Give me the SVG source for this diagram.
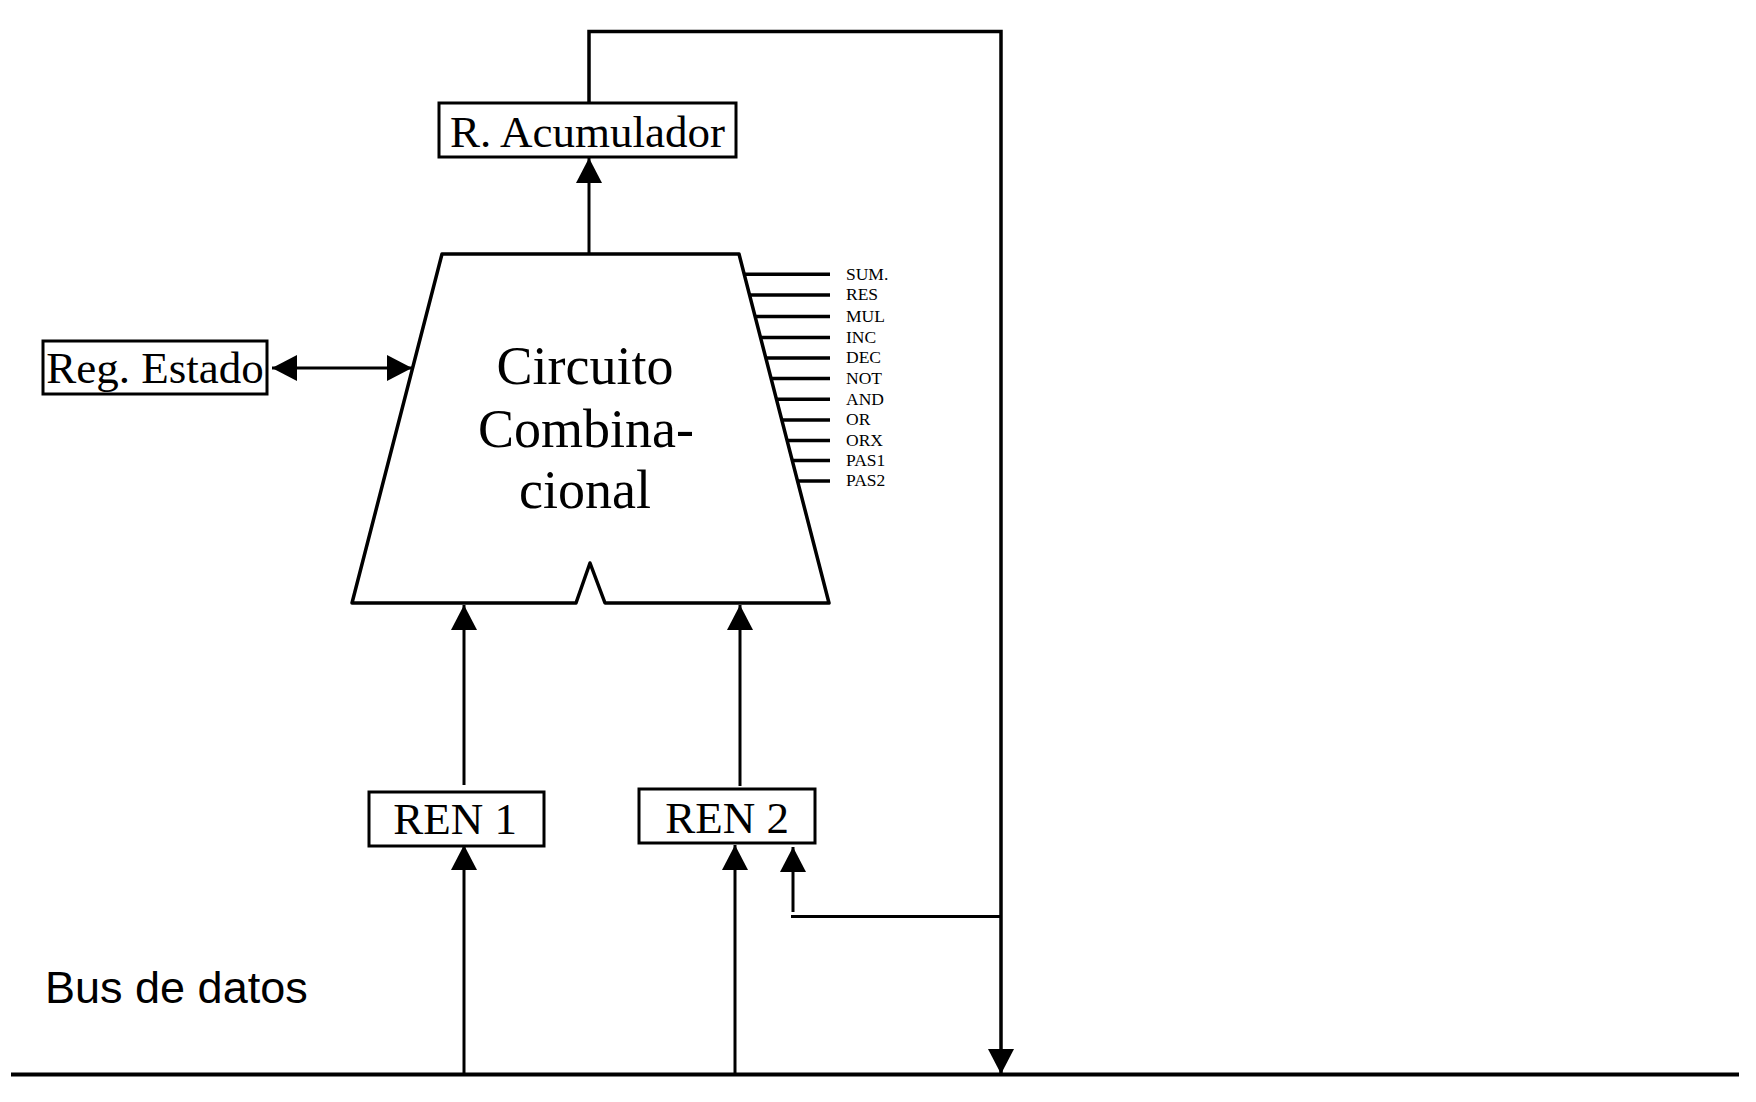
<svg xmlns="http://www.w3.org/2000/svg" width="1756" height="1102" viewBox="0 0 1756 1102">
<style>
.ln{stroke:#000;stroke-width:3;fill:none}
.box{stroke:#000;stroke-width:3;fill:#fff}
.serif{font-family:"Liberation Serif","Times New Roman",serif;fill:#000}
.big{font-size:45px;text-anchor:middle}
.cc{font-size:54px;text-anchor:middle}
.sig{font-size:17.5px}
.sans{font-family:"Liberation Sans",Arial,sans-serif;font-size:45px;fill:#000}
</style>
<defs>
<marker id="ah" markerUnits="userSpaceOnUse" markerWidth="26" markerHeight="26" refX="25" refY="13" orient="auto" viewBox="0 0 26 26">
<path d="M0,0 L25,13 L0,26 z" fill="#000"/>
</marker>
<marker id="ahs" markerUnits="userSpaceOnUse" markerWidth="26" markerHeight="26" refX="1" refY="13" orient="auto" viewBox="0 0 26 26">
<path d="M26,0 L1,13 L26,26 z" fill="#000"/>
</marker>
</defs>
<rect width="1756" height="1102" fill="#fff"/>

<g id="connectors">
<line class="ln" x1="11" y1="1074.5" x2="1739" y2="1074.5" style="stroke-width:4"/>
<polyline class="ln" points="589,103 589,31.5 1001,31.5 1001,1074" style="stroke-width:3.5" marker-end="url(#ah)"/>
<line class="ln" x1="589" y1="254" x2="589" y2="158" marker-end="url(#ah)"/>
<line class="ln" x1="272" y1="368" x2="412" y2="368" marker-start="url(#ahs)" marker-end="url(#ah)"/>
<line class="ln" x1="464" y1="785" x2="464" y2="605" marker-end="url(#ah)"/>
<line class="ln" x1="740" y1="786" x2="740" y2="605" marker-end="url(#ah)"/>
<line class="ln" x1="464" y1="1074" x2="464" y2="845" marker-end="url(#ah)"/>
<line class="ln" x1="735" y1="1076" x2="735" y2="845" marker-end="url(#ah)"/>
<line class="ln" x1="793" y1="912" x2="793" y2="847" marker-end="url(#ah)"/>
<line class="ln" x1="791" y1="916.5" x2="1001" y2="916.5"/>
</g>

<g id="acumulador">
<rect class="box" x="439" y="103" width="297" height="54"/>
<text class="serif big" x="587.5" y="146.5">R. Acumulador</text>
</g>

<g id="reg-estado">
<rect class="box" x="43" y="341" width="224" height="53"/>
<text class="serif big" x="155" y="383">Reg. Estado</text>
</g>

<g id="circuito">
<polygon class="ln" points="442,254 739,254 829,603 605,603 590,563 576,603 352,603" style="stroke-width:3.5;stroke-linejoin:round"/>
<text class="serif cc" x="585" y="384">Circuito</text>
<text class="serif cc" x="586" y="447">Combina-</text>
<text class="serif cc" x="585" y="508">cional</text>
</g>

<g id="senales">
<g class="ln" style="stroke-width:3.5">
<line x1="744" y1="274.3" x2="830" y2="274.3"/>
<line x1="749" y1="295" x2="830" y2="295"/>
<line x1="755" y1="316.6" x2="830" y2="316.6"/>
<line x1="760" y1="337.4" x2="830" y2="337.4"/>
<line x1="765" y1="358" x2="830" y2="358"/>
<line x1="771" y1="378.6" x2="830" y2="378.6"/>
<line x1="776" y1="399.3" x2="830" y2="399.3"/>
<line x1="781" y1="420" x2="830" y2="420"/>
<line x1="787" y1="440.5" x2="830" y2="440.5"/>
<line x1="792" y1="460.5" x2="830" y2="460.5"/>
<line x1="797" y1="481" x2="830" y2="481"/>
</g>
<g class="serif sig">
<text x="846" y="279.5">SUM.</text>
<text x="846" y="300.2">RES</text>
<text x="846" y="321.8">MUL</text>
<text x="846" y="342.6">INC</text>
<text x="846" y="363.2">DEC</text>
<text x="846" y="383.8">NOT</text>
<text x="846" y="404.5">AND</text>
<text x="846" y="425.2">OR</text>
<text x="846" y="445.7">ORX</text>
<text x="846" y="465.7">PAS1</text>
<text x="846" y="486.2">PAS2</text>
</g>
</g>

<g id="ren1">
<rect class="box" x="369" y="792" width="175" height="54"/>
<text class="serif big" x="455" y="834">REN 1</text>
</g>

<g id="ren2">
<rect class="box" x="639" y="789" width="176" height="54"/>
<text class="serif big" x="727" y="833">REN 2</text>
</g>

<g id="bus">
<text class="sans" x="45" y="1002.5">Bus de datos</text>
</g>
</svg>
